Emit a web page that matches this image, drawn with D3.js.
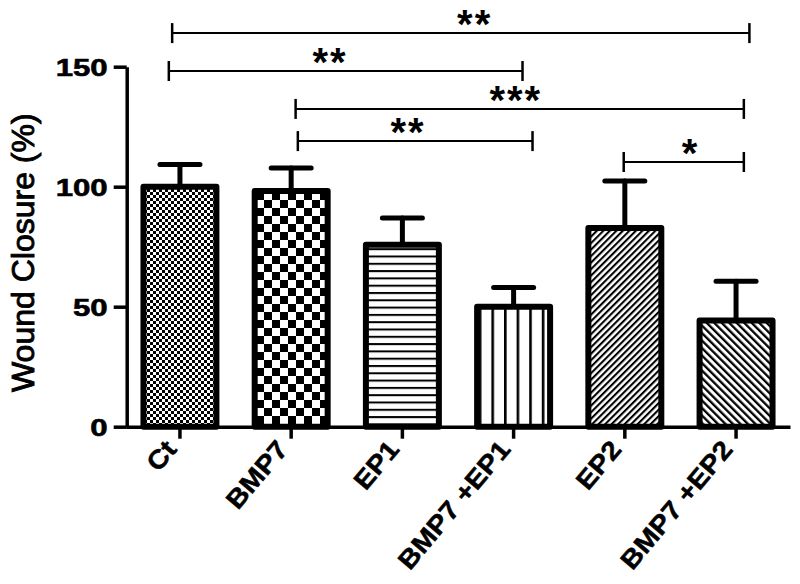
<!DOCTYPE html>
<html lang="en">
<head>
<meta charset="UTF-8">
<title>Wound closure</title>
<script src="https://d3js.org/d3.v7.min.js"></script>
<style>
    body { margin: 0; background: #fff; }
    svg { width: 800px; height: 584px; display: block; }
</style>
</head>
<body>
<svg></svg>
<script>
    // data
    const categories = ["Ct", "BMP7", "EP1", "BMP7 +EP1", "EP2", "BMP7 +EP2"];
    const means = [100, 98.2, 75.8, 50, 82.8, 44.2];
    const sems = [9.2, 9.6, 11.2, 8, 19.6, 16.4];
    const yTicks = [0, 50, 100, 150];
    // significance brackets: ends are positions along the category axis (index units)
    const bracketFrom = [-0.07, -0.1, 1.04, 1.06, 3.99];
    const bracketTo = [5.12, 3.08, 5.07, 3.17, 5.07];
    const bracketLevel = [164, 148.2, 132.4, 119, 110.3];
    const bracketLabelAt = [2.65, 1.35, 3.02, 2.05, 4.59];
    const bracketLabel = ["**", "**", "***", "**", "*"];

    const fillIds = ["fineCheck", "check", "hLines", "vLines", "diagUp", "diagDown"];

    const svg = d3.select("svg");
    const defs = svg.append("defs");

    function pattern(id, w, h, transform) {
        const p = defs.append("pattern")
            .attr("id", id)
            .attr("patternUnits", "userSpaceOnUse")
            .attr("width", w).attr("height", h);
        if (transform) p.attr("patternTransform", transform);
        p.append("rect").attr("width", w).attr("height", h).attr("fill", "#fff");
        return p;
    }
    let p = pattern("fineCheck", 6, 6);
    p.append("rect").attr("width", 3).attr("height", 3);
    p.append("rect").attr("x", 3).attr("y", 3).attr("width", 3).attr("height", 3);
    p = pattern("check", 16, 16);
    p.append("rect").attr("width", 8).attr("height", 8);
    p.append("rect").attr("x", 8).attr("y", 8).attr("width", 8).attr("height", 8);
    p = pattern("hLines", 10, 7.3);
    p.append("rect").attr("width", 10).attr("height", 2);
    p = pattern("vLines", 12.6, 10);
    p.append("rect").attr("width", 2.6).attr("height", 10);
    p = pattern("diagUp", 4.6, 10, "rotate(45)");
    p.append("rect").attr("width", 2.1).attr("height", 10);
    p = pattern("diagDown", 5.3, 10, "rotate(-45)");
    p.append("rect").attr("width", 2.3).attr("height", 10);

    const x = d3.scaleBand()
        .domain(categories)
        .range([126, 790])
        .paddingInner(0.29)
        .paddingOuter(0.13);
    const y = d3.scaleLinear().domain([0, 150]).range([426.7, 66.7]);
    const pos = d3.scaleLinear()
        .domain([0, categories.length - 1])
        .range([x(categories[0]) + x.bandwidth() / 2, x(categories[categories.length - 1]) + x.bandwidth() / 2]);

    const data = categories.map((c, i) => ({ cat: c, mean: means[i], sem: sems[i], fill: fillIds[i] }));
    const bw = 6;

    // error bars
    const eb = svg.append("g").attr("stroke", "#000").attr("stroke-width", 5).attr("stroke-linecap", "round");
    eb.selectAll(".v").data(data).join("line")
        .attr("x1", d => x(d.cat) + x.bandwidth() / 2)
        .attr("x2", d => x(d.cat) + x.bandwidth() / 2)
        .attr("y1", d => y(d.mean))
        .attr("y2", d => y(d.mean + d.sem));
    eb.selectAll(".cap").data(data).join("line")
        .attr("x1", d => x(d.cat) + x.bandwidth() / 2 - 20)
        .attr("x2", d => x(d.cat) + x.bandwidth() / 2 + 20)
        .attr("y1", d => y(d.mean + d.sem))
        .attr("y2", d => y(d.mean + d.sem));

    // bars
    svg.append("g").selectAll("rect").data(data).join("rect")
        .attr("x", d => x(d.cat) + bw / 2)
        .attr("y", d => y(d.mean))
        .attr("width", x.bandwidth() - bw)
        .attr("height", d => y(0) - y(d.mean))
        .attr("fill", d => `url(#${d.fill})`)
        .attr("stroke", "#000")
        .attr("stroke-width", bw)
        .attr("stroke-linejoin", "round");

    // y axis
    const yAxis = svg.append("g")
        .attr("transform", "translate(126.7,0)")
        .call(d3.axisLeft(y).tickValues(yTicks).tickSize(13).tickSizeOuter(0).tickPadding(0));
    yAxis.select(".domain").attr("stroke-width", 3.5);
    yAxis.selectAll(".tick line").attr("stroke-width", 3.5);
    yAxis.selectAll(".tick text")
        .attr("x", -19 / 1.3)
        .attr("dy", "0.36em")
        .attr("transform", "scale(1.3,1)")
        .attr("font-family", "Liberation Sans, Arial, sans-serif")
        .attr("font-weight", "bold")
        .attr("font-size", 24)
        .attr("stroke", "#000")
        .attr("stroke-width", 0.6)
        .attr("fill", "#000");

    // x axis
    const xAxis = svg.append("g")
        .attr("transform", `translate(0,${y(0)})`)
        .call(d3.axisBottom(x).tickSize(12).tickSizeOuter(0).tickFormat(""));
    xAxis.select(".domain").attr("stroke-width", 3.5);
    xAxis.selectAll(".tick line").attr("stroke-width", 3.5);

    svg.append("g").selectAll("text").data(categories).join("text")
        .attr("transform", d => `translate(${x(d) + x.bandwidth() / 2 - 2},450) rotate(-50) scale(1.1,1)`)
        .attr("text-anchor", "end")
        .attr("font-family", "Liberation Sans, Arial, sans-serif")
        .attr("font-weight", "bold")
        .attr("font-size", 26)
        .attr("stroke", "#000")
        .attr("stroke-width", 0.5)
        .text(d => d);

    // y title
    svg.append("text")
        .attr("transform", `translate(34,${(y(0) + y(150)) / 2 + 6}) rotate(-90)`)
        .attr("text-anchor", "middle")
        .attr("font-family", "Liberation Sans, Arial, sans-serif")
        .attr("font-size", 32)
        .attr("stroke", "#000")
        .attr("stroke-width", 0.9)
        .text("Wound Closure (%)");

    // significance brackets
    const br = bracketLevel.map((lv, i) => ({ a: bracketFrom[i], b: bracketTo[i], lv, at: bracketLabelAt[i], label: bracketLabel[i] }));
    const bg = svg.append("g").attr("stroke", "#000");
    bg.selectAll(".h").data(br).join("line")
        .attr("stroke-width", 2)
        .attr("x1", d => pos(d.a)).attr("x2", d => pos(d.b))
        .attr("y1", d => y(d.lv)).attr("y2", d => y(d.lv));
    bg.selectAll(".l").data(br).join("line")
        .attr("stroke-width", 2.5)
        .attr("x1", d => pos(d.a)).attr("x2", d => pos(d.a))
        .attr("y1", d => y(d.lv) - 10).attr("y2", d => y(d.lv) + 10);
    bg.selectAll(".r").data(br).join("line")
        .attr("stroke-width", 2.5)
        .attr("x1", d => pos(d.b)).attr("x2", d => pos(d.b))
        .attr("y1", d => y(d.lv) - 10).attr("y2", d => y(d.lv) + 10);
    svg.append("g").selectAll("text").data(br).join("text")
        .attr("x", d => pos(d.at))
        .attr("y", d => y(d.lv) + 5)
        .attr("text-anchor", "middle")
        .attr("font-family", "Liberation Sans, Arial, sans-serif")
        .attr("font-weight", "bold")
        .attr("font-size", 40)
        .attr("letter-spacing", 2)
        .text(d => d.label);
</script>
</body>
</html>
